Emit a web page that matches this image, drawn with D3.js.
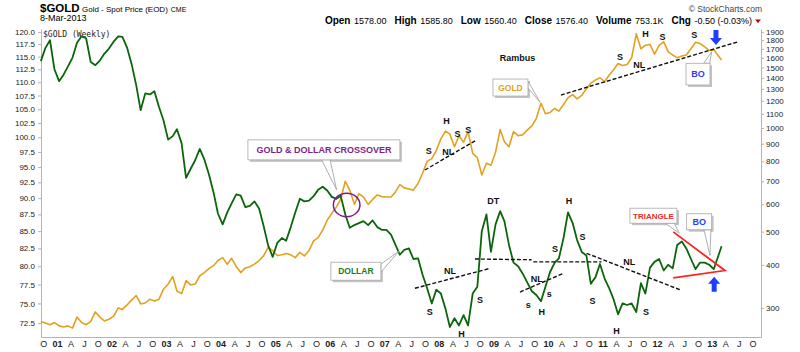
<!DOCTYPE html>
<html>
<head>
<meta charset="utf-8">
<script src="https://cdn.jsdelivr.net/npm/d3@7"></script>
<style>
  body { margin: 0; background: #fff; }
  svg { font-family: "Liberation Sans", Arial, sans-serif; }
  .axis path, .axis line { stroke: #b4b4b4; }
  .axis text { fill: #222; font-size: 8px; }
  .xaxis text { font-size: 9px; }
  .mark { font-weight: bold; font-size: 9px; fill: #111; }
</style>
</head>
<body>
<svg id="chart" width="800" height="352"></svg>
<script>
// One value per month (mid-month) from Sep 2000, last value is 8-Mar-2013.
const firstMonth = [2000, 8];
const lastDate = new Date(2013, 2, 8);

// US dollar index, left axis
const dollar = [
  114.1, 116.7, 118.3, 112.5,
  110.2, 111.5, 113.0, 114.8, 117.8, 119.1, 118.7, 113.9, 113.3, 114.2, 115.6, 116.6,
  118.0, 119.1, 119.0, 116.8, 113.6, 109.5, 104.8, 107.9, 107.7, 108.3, 105.4, 103.0,
  99.6, 100.2, 101.4, 99.0, 93.2, 94.7, 96.1, 98.0, 96.2, 93.8, 90.9, 87.6,
  86.0, 87.8, 89.2, 90.6, 90.4, 88.6, 88.8, 89.5, 88.4, 85.8, 82.9, 81.3,
  83.3, 84.0, 83.6, 85.6, 87.8, 89.9, 89.5, 89.6, 90.3, 91.3, 91.8, 91.2,
  90.2, 89.9, 90.4, 87.5, 85.5, 85.9, 86.2, 86.5, 85.9, 86.6, 85.6, 85.2,
  85.2, 84.5, 83.1, 81.6, 82.3, 82.5, 81.0, 81.1, 78.8, 77.0, 75.0, 76.8,
  76.3, 74.3, 72.0, 73.1, 72.2, 73.5, 72.2, 76.3, 77.2, 85.0, 87.5, 82.0,
  86.0, 88.0, 86.5, 83.0, 80.5, 80.0, 79.0, 77.8, 76.6, 76.1, 75.3, 77.2,
  79.2, 80.5, 81.1, 84.0, 87.8, 86.2, 83.7, 82.0, 81.5, 77.6, 78.5, 80.3,
  78.3, 77.0, 75.6, 73.6, 75.0, 74.8, 75.0, 73.9, 77.7, 76.3, 79.8, 80.6,
  81.0, 79.4, 80.2, 79.7, 83.0, 83.5, 82.5, 81.0, 79.6, 80.5, 80.5, 80.2,
  79.6, 81.5, 82.8
];

// Gold spot price, right axis
const gold = [
  274, 271, 268, 272,
  266, 264, 266, 262, 282, 272, 268, 274, 292, 282, 275, 278,
  284, 300, 297, 306, 316, 326, 308, 310, 318, 314, 318, 340,
  352, 370, 336, 330, 360, 350, 352, 372, 380, 390, 398, 412,
  420, 402, 418, 396, 380, 392, 395, 402, 412, 425, 450, 440,
  426, 428, 432, 428, 420, 435, 425, 440, 470, 480, 505, 540,
  565, 590, 620, 700, 660, 600, 645, 630, 600, 620, 639, 632,
  630, 630, 650, 685, 670, 665, 660, 690, 740, 800, 815, 860,
  930, 980, 960, 882, 950, 910, 976, 844, 820, 730, 790, 780,
  850, 990, 912, 882, 976, 950, 955, 986, 1015, 1067, 1180, 1100,
  1110, 1140, 1120, 1170, 1225, 1250, 1215, 1245, 1300, 1350, 1380, 1400,
  1363, 1426, 1475, 1540, 1520, 1530, 1600, 1880, 1700, 1740, 1750, 1640,
  1740, 1780, 1667, 1630, 1600, 1620, 1630, 1700, 1775, 1760, 1723, 1680,
  1690, 1620, 1576
];

const leftTicks = [72.5, 75, 77.5, 80, 82.5, 85, 87.5, 90, 92.5, 95, 97.5, 100,
  102.5, 105, 107.5, 110, 112.5, 115, 117.5, 120];
const rightTicks = [300, 400, 500, 600, 700, 800, 900, 1000, 1100, 1200, 1300,
  1400, 1500, 1600, 1700, 1800, 1900];
const quarterLetters = { 3: 'A', 6: 'J', 9: 'O' };

// analyst drawings, in [decimal year, value] on the gold or dollar scale
const goldLines = [
  [[2010.237, 1247], [2013.487, 1782]],
  [[2007.745, 755], [2008.692, 923]]
];
const dollarLines = [
  [[2007.562, 77.0], [2008.936, 79.7]],
  [[2008.661, 81.0], [2009.700, 80.9]],
  [[2009.730, 80.6], [2010.983, 80.6]],
  [[2009.486, 76.5], [2010.280, 79.0]],
  [[2010.709, 81.8], [2012.419, 76.8]]
];
const triangle = [[2012.296, 84.9], [2013.243, 79.4], [2012.296, 78.4]];

const goldMarks = [
  [2007.818, 857, 'S'], [2008.143, 1050, 'H'], [2008.344, 961, 'S'], [2008.538, 987, 'S'],
  [2008.172, 853, 'NL'], [2011.319, 1612, 'S'], [2011.790, 1876, 'H'], [2012.101, 1843, 'S'],
  [2012.681, 1864, 'S'], [2011.673, 1524, 'NL'], [2009.440, 1598, 'Rambus']
];
const dollarMarks = [
  [2008.997, 89.6, 'DT'], [2010.384, 89.6, 'H'], [2010.635, 84.1, 'S'], [2010.128, 82.5, 'S'],
  [2008.203, 79.3, 'NL'], [2007.836, 73.9, 'S'], [2008.752, 75.5, 'S'], [2008.417, 71.2, 'H'],
  [2009.792, 78.3, 'NL'], [2009.638, 74.8, 's'], [2010.023, 76.2, 's'], [2009.884, 73.9, 'H'],
  [2010.818, 75.4, 'S'], [2011.489, 80.6, 'NL'], [2011.796, 73.9, 'S'], [2011.258, 71.55, 'H']
];

const callouts = [
  { text: 'GOLD & DOLLAR CROSSOVER', color: '#7d1f8a', size: 9, scale: 'dollar', t: 2006.126, v: 91.3,
    box: [-88.7, -50, 152, 20], base: [[-15, -30], [-6.5, -30]] },
  { text: 'GOLD', color: '#e2a11f', size: 8.5, scale: 'gold', t: 2009.853, v: 1190,
    box: [-47, -23, 35, 17], base: [[-12, -21], [-12, -14]] },
  { text: 'DOLLAR', color: '#1c7a1c', size: 8.5, scale: 'dollar', t: 2007.268, v: 82.1,
    box: [-68, 11, 50, 18], base: [[-18, 13], [-18, 21]] },
  { text: 'TRIANGLE', color: '#ee2a2a', size: 8, scale: 'dollar', t: 2012.406, v: 84.7,
    box: [-49.3, -25, 47, 15], base: [[-14, -10], [-5, -10]] },
  { text: 'BO', color: '#2a3cff', size: 9, scale: 'dollar', t: 2012.968, v: 81.5,
    box: [-23.3, -41.7, 25, 16], base: [[-6, -25.7], [1, -25.7]] },
  { text: 'BO', color: '#2a3cff', size: 9, scale: 'gold', t: 2013.0, v: 1667,
    box: [-25.7, 11.6, 24, 21.7], base: [[-8, 11.6], [-2, 11.6]] }
];
const arrows = [
  { scale: 'gold', t: 2013.078, v: 1743, dir: 1 },
  { scale: 'dollar', t: 2013.045, v: 78.55, dir: -1 }
];
const crossCircle = { t: 2006.310, v: 88.95 };

const svg = d3.select('#chart');
const plot = { left: 41, right: 761, top: 29, bottom: 337 };

const x = d3.scaleTime()
  .domain([new Date(2000, 8, 16), new Date(2013, 10, 27)])
  .range([plot.left, plot.right]);
const yDollar = d3.scaleLog().domain([70.77, 120.62]).range([plot.bottom, plot.top]);
const yGold = d3.scaleLog().domain([246.9, 1940.3]).range([plot.bottom, plot.top]);
const yOf = s => (s === 'gold' ? yGold : yDollar);

const yearDate = t => {
  const y = Math.floor(t);
  const a = new Date(y, 0, 1), b = new Date(y + 1, 0, 1);
  return new Date(+a + (t - y) * (b - a));
};

const dates = dollar.map((d, i) =>
  i < dollar.length - 1 ? new Date(firstMonth[0], firstMonth[1] + i, 15) : lastDate);

// header
const head = svg.append('g');
head.append('text').attr('x', 40).attr('y', 12).attr('font-size', 11.5).attr('font-weight', 'bold').text('$GOLD');
const sub = head.append('text').attr('x', 82).attr('y', 11.5).attr('font-size', 8).text('Gold - Spot Price (EOD)');
head.append('text').attr('x', 82 + sub.node().getComputedTextLength() + 3).attr('y', 11.5)
  .attr('font-size', 7).text('CME');
head.append('text').attr('x', 40).attr('y', 21).attr('font-size', 9).text('8-Mar-2013');
head.append('text').attr('x', 762).attr('y', 12).attr('font-size', 8.5).attr('fill', '#444')
  .attr('text-anchor', 'end').text('© StockCharts.com');

const quote = [['Open', '1578.00'], ['High', '1585.80'], ['Low', '1560.40'], ['Close', '1576.40'],
  ['Volume', '753.1K'], ['Chg', '-0.50 (-0.03%)']];
const qt = head.append('text').attr('x', 752).attr('y', 23.5).attr('text-anchor', 'end');
quote.forEach(([k, v], i) => {
  qt.append('tspan').attr('font-weight', 'bold').attr('font-size', 10).attr('dx', i ? 8 : 0).text(k);
  qt.append('tspan').attr('font-size', 9).attr('dx', 3.5).text(v);
});
head.append('path').attr('d', 'M755,19.5L761,19.5L758,23Z').attr('fill', '#c00000');

// axes
svg.append('g')
  .attr('class', 'axis')
  .attr('transform', `translate(${plot.left},0)`)
  .call(d3.axisLeft(yDollar).tickValues(leftTicks).tickFormat(d3.format('.1f')).tickSize(3).tickSizeOuter(0));

svg.append('g')
  .attr('class', 'axis')
  .attr('transform', `translate(${plot.right},0)`)
  .call(d3.axisRight(yGold).tickValues(rightTicks).tickFormat(d3.format('d')).tickSize(3).tickSizeOuter(0).tickPadding(2));

const quarters = d3.timeMonth.every(3).range(new Date(2000, 9, 1), new Date(2013, 10, 1));
const xg = svg.append('g')
  .attr('class', 'axis xaxis')
  .attr('transform', `translate(0,${plot.bottom})`)
  .call(d3.axisBottom(x).tickValues(quarters).tickSize(0).tickSizeOuter(0).tickPadding(4)
    .tickFormat(d => d.getMonth() === 0 ? d3.timeFormat('%y')(d) : quarterLetters[d.getMonth()]));
xg.selectAll('.tick text').attr('font-weight', d => d.getMonth() === 0 ? 'bold' : null);

svg.append('text').attr('x', 43).attr('y', 37).attr('font-family', '"DejaVu Sans Mono", monospace')
  .attr('font-size', 8).attr('fill', '#222').text('$GOLD (Weekly)');

// series
const goldLine = d3.line().x((d, i) => x(dates[i])).y(d => yGold(d));
const dollarLine = d3.line().x((d, i) => x(dates[i])).y(d => yDollar(d));

svg.append('path').datum(gold).attr('fill', 'none').attr('stroke', '#e2a11f')
  .attr('stroke-width', 1.6).attr('stroke-linejoin', 'round').attr('d', goldLine);
svg.append('path').datum(dollar).attr('fill', 'none').attr('stroke', '#0b650b')
  .attr('stroke-width', 1.8).attr('stroke-linejoin', 'round').attr('d', dollarLine);

// analyst trend lines
const trend = s => d3.line().x(d => x(yearDate(d[0]))).y(d => yOf(s)(d[1]));
const tl = svg.append('g').attr('fill', 'none').attr('stroke', '#111').attr('stroke-width', 1.4)
  .attr('stroke-dasharray', '4,2');
goldLines.forEach(l => tl.append('path').attr('d', trend('gold')(l)));
dollarLines.forEach(l => tl.append('path').attr('d', trend('dollar')(l)));

svg.append('path').attr('d', trend('dollar')(triangle)).attr('fill', 'none')
  .attr('stroke', '#ff2020').attr('stroke-width', 1.8);

// circle at crossover
svg.append('ellipse')
  .attr('cx', x(yearDate(crossCircle.t))).attr('cy', yDollar(crossCircle.v))
  .attr('rx', 13.3).attr('ry', 11.7)
  .attr('fill', 'none').attr('stroke', '#7d1f8a').attr('stroke-width', 1.5);

// pattern letters
const marks = svg.append('g').attr('class', 'marks');
goldMarks.forEach(([t, v, s]) => marks.append('text').attr('class', 'mark')
  .attr('x', x(yearDate(t))).attr('y', yGold(v)).attr('dy', '0.35em').attr('text-anchor', 'middle').text(s));
dollarMarks.forEach(([t, v, s]) => marks.append('text').attr('class', 'mark')
  .attr('x', x(yearDate(t))).attr('y', yDollar(v)).attr('dy', '0.35em').attr('text-anchor', 'middle').text(s));

// callouts
callouts.forEach(c => {
  const tx = x(yearDate(c.t)), ty = yOf(c.scale)(c.v);
  const g = svg.append('g').attr('transform', `translate(${tx},${ty})`);
  const [bx, by, bw, bh] = c.box;
  g.append('rect').attr('x', bx + 2).attr('y', by + 2).attr('width', bw).attr('height', bh).attr('fill', '#c4c4c4');
  g.append('path').attr('d', `M${c.base[0]}L0,0L${c.base[1]}Z`)
    .attr('fill', '#fff').attr('stroke', '#9a9a9a').attr('stroke-width', 0.8);
  g.append('rect').attr('x', bx).attr('y', by).attr('width', bw).attr('height', bh)
    .attr('fill', '#fff').attr('stroke', '#a8a8a8').attr('stroke-width', 0.8);
  g.append('text').attr('x', bx + bw / 2).attr('y', by + bh / 2).attr('dy', '0.36em')
    .attr('text-anchor', 'middle').attr('font-size', c.size).attr('font-weight', 'bold')
    .attr('fill', c.color).text(c.text);
});

// blue arrows
arrows.forEach(a => {
  const ax = x(yearDate(a.t)), ay = yOf(a.scale)(a.v), k = a.dir;
  svg.append('path')
    .attr('transform', `translate(${ax},${ay})`)
    .attr('d', `M0,0L-6,${-7 * k}L-2.5,${-7 * k}L-2.5,${-15 * k}L2.5,${-15 * k}L2.5,${-7 * k}L6,${-7 * k}Z`)
    .attr('fill', '#1f3cff');
});
</script>
</body>
</html>
